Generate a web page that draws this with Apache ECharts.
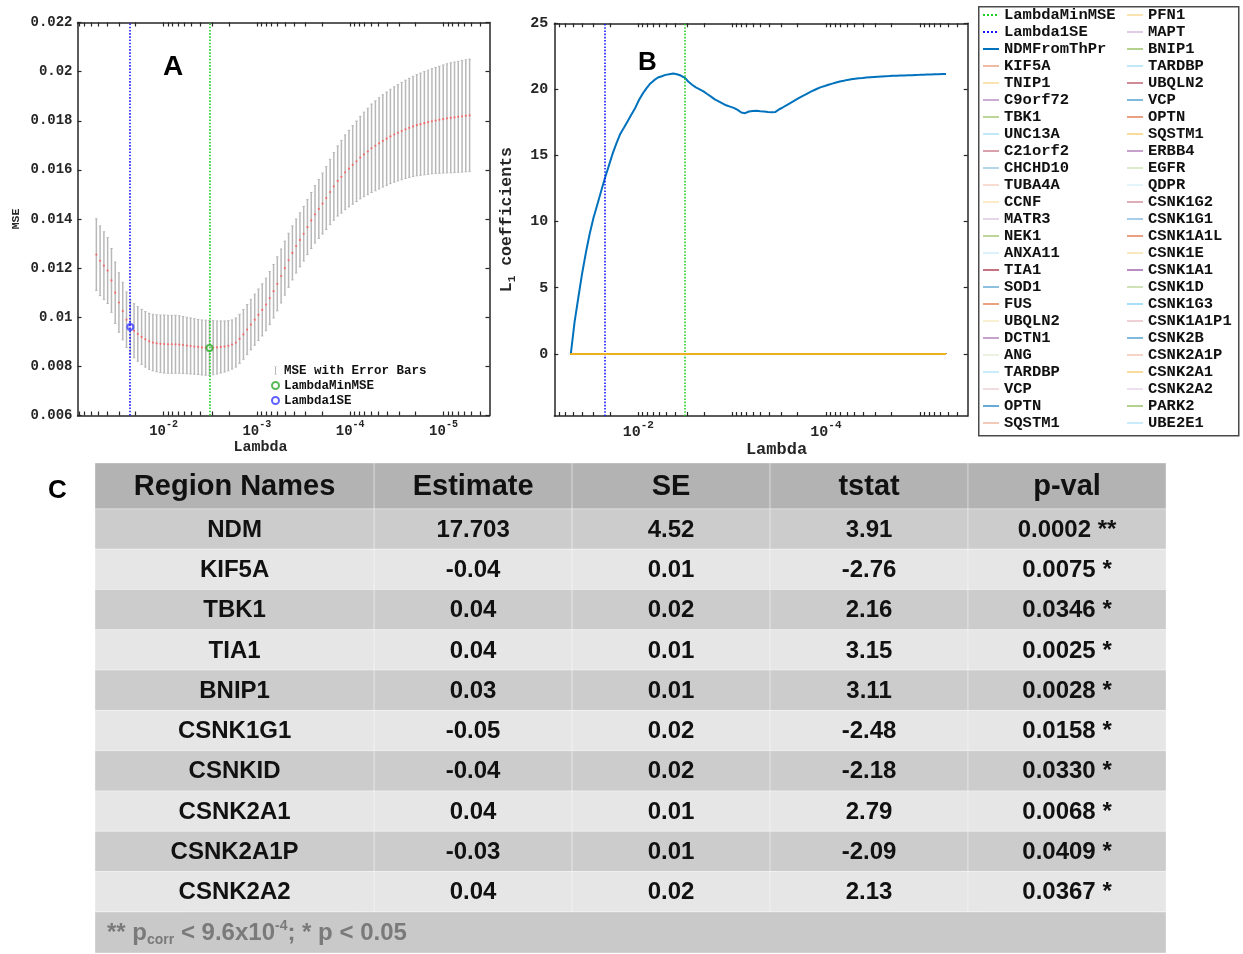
<!DOCTYPE html>
<html><head><meta charset="utf-8">
<script src="https://cdn.jsdelivr.net/npm/echarts@6/dist/echarts.min.js"></script>
<style>html,body{margin:0;padding:0;background:#fff}#c{width:1243px;height:954px}</style>
</head><body><div id="c"></div>
<script>
// ================= DATA =================
// log10(Lambda) grid of the lasso path (100 values)
const lambdaLog = [-1.280,-1.320,-1.361,-1.401,-1.442,-1.482,-1.522,-1.563,-1.603,-1.644,
 -1.684,-1.724,-1.765,-1.805,-1.846,-1.886,-1.926,-1.967,-2.007,-2.048,
 -2.088,-2.128,-2.169,-2.209,-2.250,-2.290,-2.330,-2.371,-2.411,-2.452,
 -2.492,-2.532,-2.573,-2.613,-2.654,-2.694,-2.734,-2.775,-2.815,-2.856,
 -2.896,-2.936,-2.977,-3.017,-3.058,-3.098,-3.138,-3.179,-3.219,-3.260,
 -3.300,-3.340,-3.381,-3.421,-3.462,-3.502,-3.542,-3.583,-3.623,-3.664,
 -3.704,-3.744,-3.785,-3.825,-3.866,-3.906,-3.946,-3.987,-4.027,-4.068,
 -4.108,-4.148,-4.189,-4.229,-4.270,-4.310,-4.350,-4.391,-4.431,-4.472,
 -4.512,-4.552,-4.593,-4.633,-4.674,-4.714,-4.754,-4.795,-4.835,-4.876,
 -4.916,-4.956,-4.997,-5.037,-5.078,-5.118,-5.158,-5.199,-5.239,-5.280];
// cross-validated MSE (panel A)
const mseMean = [0.01255,0.01230,0.01210,0.01190,0.01150,0.01100,0.01060,0.01025,0.00990,0.00960,
 0.00945,0.00932,0.00920,0.00910,0.00902,0.00897,0.00894,0.00892,0.00891,0.00890,
 0.00890,0.00890,0.00889,0.00887,0.00885,0.00883,0.00881,0.00879,0.00877,0.00876,
 0.00875,0.00876,0.00877,0.00879,0.00881,0.00884,0.00889,0.00897,0.00912,0.00930,
 0.00950,0.00970,0.00990,0.01010,0.01030,0.01052,0.01078,0.01106,0.01136,0.01168,
 0.01200,0.01232,0.01262,0.01290,0.01315,0.01340,0.01367,0.01394,0.01419,0.01441,
 0.01463,0.01485,0.01510,0.01533,0.01555,0.01572,0.01590,0.01605,0.01620,0.01635,
 0.01650,0.01663,0.01675,0.01688,0.01698,0.01708,0.01718,0.01727,0.01736,0.01744,
 0.01751,0.01758,0.01765,0.01771,0.01777,0.01782,0.01786,0.01790,0.01794,0.01798,
 0.01801,0.01804,0.01807,0.01810,0.01812,0.01814,0.01816,0.01818,0.01820,0.01822];
// standard error of MSE
const mseSE = [0.00146,0.00142,0.00138,0.00134,0.00130,0.00125,0.00121,0.00117,0.00113,0.00110,
 0.00110,0.00111,0.00112,0.00113,0.00114,0.00115,0.00116,0.00117,0.00118,0.00118,
 0.00118,0.00118,0.00117,0.00116,0.00115,0.00114,0.00113,0.00112,0.00112,0.00112,
 0.00112,0.00110,0.00108,0.00106,0.00104,0.00102,0.00100,0.00100,0.00100,0.00101,
 0.00102,0.00103,0.00104,0.00105,0.00106,0.00107,0.00108,0.00109,0.00110,0.00110,
 0.00110,0.00110,0.00110,0.00110,0.00110,0.00111,0.00112,0.00114,0.00117,0.00120,
 0.00124,0.00128,0.00133,0.00138,0.00143,0.00148,0.00152,0.00156,0.00160,0.00164,
 0.00168,0.00172,0.00176,0.00180,0.00183,0.00186,0.00188,0.00190,0.00192,0.00194,
 0.00196,0.00198,0.00200,0.00202,0.00204,0.00206,0.00208,0.00210,0.00212,0.00214,
 0.00216,0.00218,0.00220,0.00222,0.00224,0.00225,0.00226,0.00227,0.00228,0.00229];
// NDMFromThPr coefficient along the path (panel B)
const ndmCoef = [0,2.4,4.3,6.1,7.7,9.1,10.3,11.3,12.3,13.3,
 14.2,15.1,15.9,16.6,17.1,17.6,18.1,18.6,19.2,19.7,
 20.1,20.45,20.7,20.9,21.0,21.1,21.15,21.2,21.15,21.05,
 20.9,20.6,20.35,20.15,20.0,19.85,19.65,19.45,19.25,19.1,
 18.95,18.8,18.7,18.6,18.45,18.25,18.2,18.33,18.36,18.38,
 18.35,18.33,18.3,18.28,18.3,18.5,18.65,18.82,18.98,19.15,
 19.32,19.48,19.63,19.78,19.92,20.05,20.17,20.26,20.35,20.44,
 20.52,20.6,20.66,20.72,20.77,20.81,20.84,20.87,20.9,20.92,
 20.94,20.96,20.98,21.0,21.01,21.03,21.04,21.05,21.06,21.07,
 21.08,21.09,21.1,21.11,21.12,21.13,21.14,21.15,21.16,21.17];
const lambdaMinLog = -2.492, lambda1SELog = -1.644;
const mseAtMin = 0.00875, mseAt1SE = 0.00960;
// other coefficients stay at ~0 on this scale (value at first / last lambda)
const geneCoefEnds = [0, 0];
const geneNames = ['KIF5A','TNIP1','C9orf72','TBK1','UNC13A','C21orf2','CHCHD10','TUBA4A','CCNF','MATR3',
 'NEK1','ANXA11','TIA1','SOD1','FUS','UBQLN2','DCTN1','ANG','TARDBP','VCP','OPTN','SQSTM1',
 'PFN1','MAPT','BNIP1','TARDBP','UBQLN2','VCP','OPTN','SQSTM1','ERBB4','EGFR','QDPR','CSNK1G2',
 'CSNK1G1','CSNK1A1L','CSNK1E','CSNK1A1','CSNK1D','CSNK1G3','CSNK1A1P1','CSNK2B','CSNK2A1P',
 'CSNK2A1','CSNK2A2','PARK2','UBE2E1'];
const xTickExpA = [-2,-3,-4,-5];
const xTickExpB = [-2,-4];
const yTicksB = [0,5,10,15,20,25];
// table (panel C)
const tableHeader = ['Region Names','Estimate','SE','tstat','p-val'];
const regionNames = ['NDM','KIF5A','TBK1','TIA1','BNIP1','CSNK1G1','CSNKID','CSNK2A1','CSNK2A1P','CSNK2A2'];
const estimate = ['17.703','-0.04','0.04','0.04','0.03','-0.05','-0.04','0.04','-0.03','0.04'];
const stdErr = ['4.52','0.01','0.02','0.01','0.01','0.02','0.02','0.01','0.01','0.02'];
const tstat = ['3.91','-2.76','2.16','3.15','3.11','-2.48','-2.18','2.79','-2.09','2.13'];
const pval = ['0.0002','0.0075','0.0346','0.0025','0.0028','0.0158','0.0330','0.0068','0.0409','0.0367'];
const pStars = ['**','*','*','*','*','*','*','*','*','*'];

// ================= STYLE / LAYOUT =================
const MONO = "'Liberation Mono', 'DejaVu Sans Mono', monospace";
const SANS = "'Liberation Sans', Arial, sans-serif";
const AX = '#262626';
const mlColors = ['#0072BD','#D95319','#EDB120','#7E2F8E','#77AC30','#4DBEEE','#A2142F'];
const legendAlpha = [.4,.35,.4,.5,.35,.4,.3,.2,.25,.2,.5,.2,.6,.45,.55,.2,.45,.15,.3,.15,.6,.3,
 .35,.25,.55,.35,.5,.5,.55,.45,.45,.25,.15,.35,.35,.55,.3,.55,.35,.5,.2,.5,.25,.45,.15,.55,.3];
function fade(hex, a) {
  const r = parseInt(hex.slice(1,3),16), g = parseInt(hex.slice(3,5),16), b = parseInt(hex.slice(5,7),16);
  const f = c => Math.round(255 - (255 - c) * a);
  return 'rgb(' + f(r) + ',' + f(g) + ',' + f(b) + ')';
}
function logTicks(min, max) {
  const out = [];
  for (let n = -7; n <= 0; n++) for (let k = 1; k <= 9; k++) {
    const v = n + Math.log10(k);
    if (v >= min && v <= max) out.push(v);
  }
  return out;
}
const rangeA = [-5.493, -1.078], rangeB = [-5.511, -1.104];
const yRangeB = [-4.7, 25];
const colEdges = [0, 1.41, 2.41, 3.41, 4.41, 5.41];
const headerH = 1.14, footerH = 1.02;
const nRows = regionNames.length;

const seen = {};
const geneSeriesNames = geneNames.map(n => { let k = n; while (seen[k]) k += '\u200B'; seen[k] = 1; return k; });
const geneColor = i => mlColors[(i + 1) % 7];

// ================= CHART =================
const chart = echarts.init(document.getElementById('c'), null, {renderer: 'canvas'});

function xAxisLog(grid, range, pos, labels, fs) {
  return {
    type: 'value', gridIndex: grid, position: pos, inverse: true,
    min: range[0], max: range[1],
    axisLine: {show: true, onZero: false, lineStyle: {color: AX, width: 1.5}},
    axisTick: {show: true, inside: true, length: 4, customValues: logTicks(range[0], range[1]), lineStyle: {color: AX, width: 1.2}},
    splitLine: {show: false},
    axisLabel: labels ? {
      show: true, customValues: labels, margin: 4,
      formatter: v => '{b|10}{s|' + Math.round(v) + '}',
      rich: {
        b: {fontFamily: MONO, fontWeight: 'bold', fontSize: fs, color: AX},
        s: {fontFamily: MONO, fontWeight: 'bold', fontSize: fs - 4, color: AX, padding: [0, 0, 14, 0]}
      }
    } : {show: false}
  };
}

const seriesA = [
  {
    type: 'custom', name: 'MSE with Error Bars', xAxisIndex: 0, yAxisIndex: 0,
    itemStyle: {color: '#b5b5b5'},
    encode: {x: 0, y: 1},
    data: lambdaLog.map((l, i) => [l, mseMean[i], mseSE[i]]),
    renderItem: (params, api) => {
      const x = api.value(0), m = api.value(1), s = api.value(2);
      const t = api.coord([x, m + s]), b = api.coord([x, m - s]);
      const cw = 1.2, st = {stroke: '#b8b8b8', lineWidth: 1.5};
      return {type: 'group', children: [
        {type: 'line', shape: {x1: t[0], y1: t[1], x2: b[0], y2: b[1]}, style: st},
        {type: 'line', shape: {x1: t[0]-cw, y1: t[1], x2: t[0]+cw, y2: t[1]}, style: {stroke: '#b8b8b8', lineWidth: 1}},
        {type: 'line', shape: {x1: b[0]-cw, y1: b[1], x2: b[0]+cw, y2: b[1]}, style: {stroke: '#b8b8b8', lineWidth: 1}}
      ]};
    }
  },
  {
    type: 'scatter', name: 'mean', xAxisIndex: 0, yAxisIndex: 0, symbol: 'circle', symbolSize: 2.2,
    itemStyle: {color: '#ff5050', opacity: 0.75}, z: 3,
    data: lambdaLog.map((l, i) => [l, mseMean[i]])
  },
  {
    type: 'scatter', name: 'LambdaMinMSE', xAxisIndex: 0, yAxisIndex: 0, symbol: 'emptyCircle', symbolSize: 6,
    itemStyle: {color: '#2fa82f', borderWidth: 1}, z: 4,
    data: [[lambdaMinLog, mseAtMin]],
    markLine: {silent: true, symbol: 'none', label: {show: false}, animation: false,
      lineStyle: {color: '#20d020', type: 'dotted', width: 1.6}, data: [{xAxis: lambdaMinLog}]}
  },
  {
    type: 'scatter', name: 'Lambda1SE', xAxisIndex: 0, yAxisIndex: 0, symbol: 'emptyCircle', symbolSize: 6,
    itemStyle: {color: '#3a3aff', borderWidth: 1}, z: 4,
    data: [[lambda1SELog, mseAt1SE]],
    markLine: {silent: true, symbol: 'none', label: {show: false}, animation: false,
      lineStyle: {color: '#1818ff', type: 'dotted', width: 1.6}, data: [{xAxis: lambda1SELog}]}
  }
];

const seriesB = [
  {
    type: 'line', name: 'LambdaMinMSE\u200B', xAxisIndex: 2, yAxisIndex: 2, symbol: 'none',
    lineStyle: {color: '#20d020', type: 'dotted', width: 1.6}, itemStyle: {color: '#20d020'},
    data: [[lambdaMinLog, 0]],
    markLine: {silent: true, symbol: 'none', label: {show: false}, animation: false,
      lineStyle: {color: '#20d020', type: 'dotted', width: 1.6}, data: [{xAxis: lambdaMinLog}]}
  },
  {
    type: 'line', name: 'Lambda1SE\u200B', xAxisIndex: 2, yAxisIndex: 2, symbol: 'none',
    lineStyle: {color: '#1818ff', type: 'dotted', width: 1.6}, itemStyle: {color: '#1818ff'},
    data: [[lambda1SELog, 0]],
    markLine: {silent: true, symbol: 'none', label: {show: false}, animation: false,
      lineStyle: {color: '#1818ff', type: 'dotted', width: 1.6}, data: [{xAxis: lambda1SELog}]}
  },
  {
    type: 'line', name: 'NDMFromThPr', xAxisIndex: 2, yAxisIndex: 2, symbol: 'none', z: 3,
    lineStyle: {color: '#0072BD', width: 2}, itemStyle: {color: '#0072BD'},
    data: lambdaLog.map((l, i) => [l, ndmCoef[i]])
  }
].concat(geneSeriesNames.map((n, i) => ({
  type: 'line', name: n, xAxisIndex: 2, yAxisIndex: 2, symbol: 'none',
  z: geneColor(i) === '#EDB120' ? 5 : 4,
  lineStyle: {color: geneColor(i), width: 1.8}, itemStyle: {color: geneColor(i)},
  data: [[lambdaLog[0], geneCoefEnds[0]], [lambdaLog[lambdaLog.length - 1], geneCoefEnds[1]]]
})));

// table cells
const tableData = [];
tableHeader.forEach((h, j) => tableData.push([j, -1]));
for (let i = 0; i < nRows; i++) for (let j = 0; j < 5; j++) tableData.push([j, i]);
tableData.push([0, nRows]);
const rowCols = [regionNames, estimate, stdErr, tstat];
function cellText(j, i) {
  if (i === -1) return tableHeader[j];
  if (j === 4) return pval[i] + ' ' + pStars[i];
  return rowCols[j][i];
}
const seriesC = {
  type: 'custom', xAxisIndex: 4, yAxisIndex: 4, silent: true,
  encode: {x: 0, y: 1},
  data: tableData,
  renderItem: (params, api) => {
    const j = api.value(0), i = api.value(1);
    let x0, x1, y0, y1, fill;
    if (i === nRows) { x0 = colEdges[0]; x1 = colEdges[5]; y0 = headerH + nRows; y1 = y0 + footerH; fill = '#c9c9c9'; }
    else {
      x0 = colEdges[j]; x1 = colEdges[j + 1];
      if (i === -1) { y0 = 0; y1 = headerH; fill = '#b3b3b3'; }
      else { y0 = headerH + i; y1 = y0 + 1; fill = (i % 2 === 0) ? '#cccccc' : '#e6e6e6'; }
    }
    const p0 = api.coord([x0, y0]), p1 = api.coord([x1, y1]);
    const rx = Math.min(p0[0], p1[0]), ry = Math.min(p0[1], p1[1]);
    const rw = Math.abs(p1[0] - p0[0]), rh = Math.abs(p1[1] - p0[1]);
    const children = [{type: 'rect', shape: {x: rx, y: ry, width: rw, height: rh},
      style: {fill: fill, stroke: 'rgba(255,255,255,0.35)', lineWidth: 1}}];
    if (i === nRows) {
      children.push({type: 'text', style: {
        x: rx + 12, y: ry + rh / 2 + 1, align: 'left', verticalAlign: 'middle',
        text: '{m|** p}{sub|corr}{m| < 9.6x10}{sup|-4}{m|; * p < 0.05}',
        rich: {
          m: {fontFamily: SANS, fontWeight: 'bold', fontSize: 24, fill: '#7a7a7a', color: '#7a7a7a'},
          sub: {fontFamily: SANS, fontWeight: 'bold', fontSize: 14, fill: '#7a7a7a', color: '#7a7a7a', padding: [14, 0, 0, 0]},
          sup: {fontFamily: SANS, fontWeight: 'bold', fontSize: 14, fill: '#7a7a7a', color: '#7a7a7a', padding: [0, 0, 14, 0]}
        }
      }});
    } else {
      children.push({type: 'text', style: {
        x: rx + rw / 2, y: ry + rh / 2 + 1, align: 'center', verticalAlign: 'middle',
        text: cellText(j, i), fill: '#111',
        font: 'bold ' + (i === -1 ? 29 : 24) + 'px ' + SANS
      }});
    }
    return {type: 'group', children: children};
  }
};

const legendTextB = {fontFamily: MONO, fontWeight: 'bold', fontSize: 15.5, color: '#111', lineHeight: 17};
const legB1 = [{name: 'LambdaMinMSE\u200B'}, {name: 'Lambda1SE\u200B'}, {name: 'NDMFromThPr'}]
  .concat(geneSeriesNames.slice(0, 22).map((n, i) => ({name: n, lineStyle: {color: fade(geneColor(i), legendAlpha[i])}})));
const legB2 = geneSeriesNames.slice(22).map((n, k) => ({name: n, lineStyle: {color: fade(geneColor(k + 22), legendAlpha[k + 22])}}));
const hideSymbol = {opacity: 0, color: 'transparent', borderColor: 'transparent', borderWidth: 0};

const option = {
  animation: false,
  backgroundColor: '#ffffff',
  title: [
    {text: 'A', left: 163, top: 53, padding: 0, textStyle: {fontFamily: SANS, fontWeight: 'bold', fontSize: 28, color: '#000'}},
    {text: 'B', left: 638, top: 50, padding: 0, textStyle: {fontFamily: SANS, fontWeight: 'bold', fontSize: 26, color: '#000'}},
    {text: 'C', left: 48, top: 478, padding: 0, textStyle: {fontFamily: SANS, fontWeight: 'bold', fontSize: 26, color: '#000'}}
  ],
  graphic: [{type: 'rect', left: 978, top: 6, z: 0, shape: {width: 260, height: 429},
    style: {fill: '#fff', stroke: '#4a4a4a', lineWidth: 1.5}}],
  legend: [
    {
      left: 271, top: 364, orient: 'vertical', padding: 0, itemGap: 2, itemWidth: 7, itemHeight: 8,
      selectedMode: false,
      textStyle: {fontFamily: MONO, fontWeight: 'bold', fontSize: 12.5, color: '#111', lineHeight: 12},
      data: [
        {name: 'MSE with Error Bars', icon: 'path://M3,0h1.2v10h-1.2z M2,0h3.2v0.7h-3.2z M2,9.3h3.2v0.7h-3.2z'},
        {name: 'LambdaMinMSE'}, {name: 'Lambda1SE'}
      ]
    },
    {
      left: 982, top: 6.5, orient: 'vertical', padding: 0, itemGap: 0, itemWidth: 16, itemHeight: 14,
      selectedMode: false, textStyle: legendTextB, formatter: n => n.replace(/\u200B/g, ''),
      itemStyle: hideSymbol,
      data: legB1
    },
    {
      left: 1126, top: 6.5, orient: 'vertical', padding: 0, itemGap: 0, itemWidth: 16, itemHeight: 14,
      selectedMode: false, textStyle: legendTextB, formatter: n => n.replace(/\u200B/g, ''),
      itemStyle: hideSymbol,
      data: legB2
    }
  ],
  grid: [
    {left: 77.5, top: 22.5, width: 412, height: 393, containLabel: false},
    {left: 554.3, top: 23.3, width: 413.4, height: 392.7, containLabel: false},
    {left: 95, top: 463, width: 1071, height: 490, containLabel: false}
  ],
  xAxis: [
    Object.assign(xAxisLog(0, rangeA, 'bottom', xTickExpA, 14), {
      name: 'Lambda', nameLocation: 'middle', nameGap: 18,
      nameTextStyle: {fontFamily: MONO, fontWeight: 'bold', fontSize: 15, color: AX, padding: [0, 46, 0, 0]}
    }),
    xAxisLog(0, rangeA, 'top', null),
    Object.assign(xAxisLog(1, rangeB, 'bottom', xTickExpB, 15), {
      name: 'Lambda', nameLocation: 'middle', nameGap: 21,
      nameTextStyle: {fontFamily: MONO, fontWeight: 'bold', fontSize: 17, color: AX, padding: [0, 0, 0, 31]}
    }),
    xAxisLog(1, rangeB, 'top', null),
    {type: 'value', gridIndex: 2, min: 0, max: colEdges[5], show: false}
  ],
  yAxis: [
    {
      type: 'value', gridIndex: 0, position: 'left', min: 0.006, max: 0.022, interval: 0.002,
      axisLine: {show: true, onZero: false, lineStyle: {color: AX, width: 1.5}},
      axisTick: {show: true, inside: true, length: 4, lineStyle: {color: AX, width: 1.2}},
      splitLine: {show: false},
      axisLabel: {margin: 5, fontFamily: MONO, fontWeight: 'bold', fontSize: 14, color: AX,
        formatter: v => String(parseFloat(v.toFixed(3)))},
      name: 'MSE', nameLocation: 'middle', nameGap: 55,
      nameTextStyle: {fontFamily: MONO, fontWeight: 'bold', fontSize: 11.5, color: AX}
    },
    {
      type: 'value', gridIndex: 0, position: 'right', min: 0.006, max: 0.022, interval: 0.002,
      axisLine: {show: true, onZero: false, lineStyle: {color: AX, width: 1.5}},
      axisTick: {show: true, inside: true, length: 4, lineStyle: {color: AX, width: 1.2}},
      splitLine: {show: false}, axisLabel: {show: false}
    },
    {
      type: 'value', gridIndex: 1, position: 'left', min: yRangeB[0], max: yRangeB[1],
      axisLine: {show: true, onZero: false, lineStyle: {color: AX, width: 1.5}},
      axisTick: {show: true, inside: true, length: 4, customValues: yTicksB, lineStyle: {color: AX, width: 1.2}},
      splitLine: {show: false},
      axisLabel: {customValues: yTicksB, margin: 6, fontFamily: MONO, fontWeight: 'bold', fontSize: 15, color: AX},
      name: '{n|L}{s|1}{n| coefficients}', nameLocation: 'middle', nameGap: 37,
      nameTextStyle: {rich: {
        n: {fontFamily: MONO, fontWeight: 'bold', fontSize: 16.5, color: AX},
        s: {fontFamily: MONO, fontWeight: 'bold', fontSize: 11, color: AX, padding: [10, 0, 0, 0]}
      }}
    },
    {
      type: 'value', gridIndex: 1, position: 'right', min: yRangeB[0], max: yRangeB[1],
      axisLine: {show: true, onZero: false, lineStyle: {color: AX, width: 1.5}},
      axisTick: {show: true, inside: true, length: 4, customValues: yTicksB, lineStyle: {color: AX, width: 1.2}},
      splitLine: {show: false}, axisLabel: {show: false}
    },
    {type: 'value', gridIndex: 2, min: 0, max: headerH + nRows + footerH, inverse: true, show: false}
  ],
  series: seriesA.concat(seriesB).concat([seriesC])
};
chart.setOption(option);
</script>
</body></html>
